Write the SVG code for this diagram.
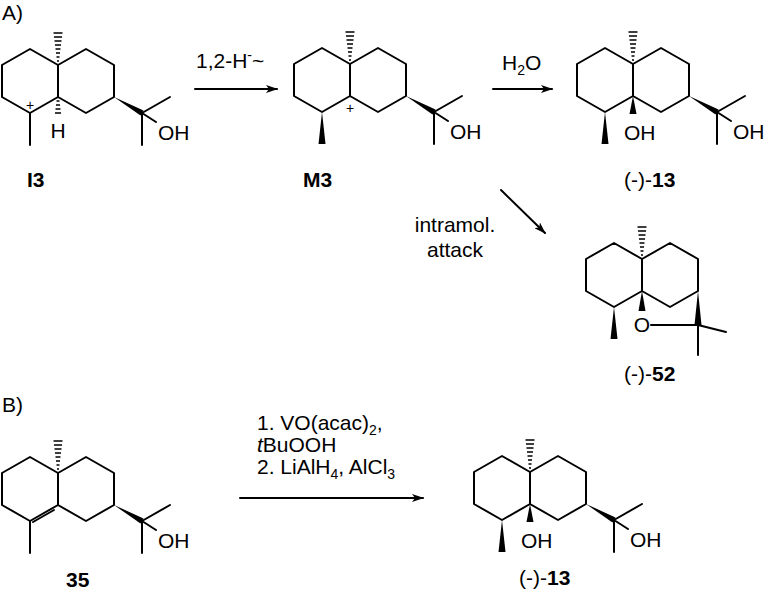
<svg xmlns="http://www.w3.org/2000/svg" xmlns:xlink="http://www.w3.org/1999/xlink" width="770" height="596" viewBox="0 0 770 596">
<style>
.b{fill:none;stroke:#000;stroke-width:2;stroke-linecap:round;stroke-linejoin:round}
.h{fill:none;stroke:#000;stroke-width:1.4}
.f{fill:#000}
text{font-family:"Liberation Sans",Arial,sans-serif;font-size:21px;fill:#000}
.lb{font-weight:bold}
.s{font-size:14px}
</style>
<defs>
<marker id="ah" markerWidth="12" markerHeight="8" refX="11" refY="4" orient="auto" markerUnits="userSpaceOnUse"><path d="M0,0 L12,4 L0,8 L3,4 Z" fill="#000"/></marker>
<path id="dec" class="b" d="M-56,0 L-28,-16 L0,0 L28,-16 L56,0 L56,32 L28,48 L0,32 L-28,48 L-56,32 Z M0,0 L0,32"/>
<path id="hashUp" class="h" d="M-1,-4 H1 M-1.5,-8 H1.5 M-2,-12 H2 M-2.5,-16 H2.5 M-3,-20 H3 M-3.5,-24 H3.5 M-4,-28 H4 M-4.5,-32 H4.5"/>
<g id="side"><polygon class="f" points="56,32 82.5,50.6 85.5,45.4"/><path class="b" d="M84,48 L112,32 M84,48 L84,80 M84,48 L98,57"/><text x="100" y="75">OH</text></g>
<polygon id="meW" class="f" points="-28,48 -31.5,80 -24.5,80"/>
<line id="meL" class="b" x1="-28" y1="48" x2="-28" y2="80"/>
</defs>
<text x="2" y="20">A)</text>
<text x="2" y="412">B)</text>
<g id="I3" transform="translate(58,65)">
<use href="#dec"/><use href="#hashUp"/><use href="#side"/><use href="#meL"/>
<path class="h" d="M-1.5,36 H1.5 M-2,40 H2 M-2.5,44 H2.5 M-3,48 H3"/>
<text x="0" y="73" text-anchor="middle">H</text>
<text x="-28" y="45" text-anchor="middle" class="s">+</text>
</g>
<g id="M3" transform="translate(350,64)">
<use href="#dec"/><use href="#hashUp"/><use href="#side"/><use href="#meW"/>
<text x="0" y="49" text-anchor="middle" class="s">+</text>
</g>
<g id="C13a" transform="translate(633,64)">
<use href="#dec"/><use href="#hashUp"/><use href="#side"/><use href="#meW"/>
<polygon class="f" points="0,32 -3.5,50 3.5,50"/>
<text x="-9" y="76">OH</text>
</g>
<g id="C52" transform="translate(642,259)">
<use href="#dec"/><use href="#hashUp"/><use href="#meW"/>
<polygon class="f" points="0,32 -3.5,52 3.5,52"/>
<text x="0" y="73" text-anchor="middle">O</text>
<polygon class="f" points="56,32 52.5,66 59.5,66"/>
<path class="b" d="M9,66 L56,66 L84,73 M56,66 L56,96"/>
</g>
<g id="C35" transform="translate(58,473)">
<use href="#dec"/><use href="#hashUp"/><use href="#side"/><use href="#meL"/>
<path class="b" d="M-4,37 L-25,49"/>
</g>
<g id="C13b" transform="translate(530,472)">
<use href="#dec"/><use href="#hashUp"/><use href="#side"/><use href="#meW"/>
<polygon class="f" points="0,32 -3.5,50 3.5,50"/>
<text x="-9" y="76">OH</text>
</g>
<g id="labels">
<text x="27" y="187" class="lb">I3</text>
<text x="303" y="187" class="lb">M3</text>
<text x="624" y="187">(-)-<tspan class="lb">13</tspan></text>
<text x="624" y="381">(-)-<tspan class="lb">52</tspan></text>
<text x="66" y="587" class="lb">35</text>
<text x="519" y="585">(-)-<tspan class="lb">13</tspan></text>
</g>
<g id="connectors">
<line class="b" x1="195" y1="89" x2="277" y2="89" marker-end="url(#ah)"/>
<line class="b" x1="493" y1="89" x2="552" y2="89" marker-end="url(#ah)"/>
<line class="b" x1="501" y1="190" x2="545" y2="233" marker-end="url(#ah)"/>
<line class="b" x1="240" y1="498" x2="423" y2="498" marker-end="url(#ah)"/>
</g>
<g id="reagents">
<text x="196" y="68">1,2-H<tspan dy="-8" class="s">-</tspan><tspan dy="8">~</tspan></text>
<text x="502" y="70">H<tspan dy="5" class="s">2</tspan><tspan dy="-5">O</tspan></text>
<text x="455" y="232" text-anchor="middle">intramol.</text>
<text x="455" y="257" text-anchor="middle">attack</text>
<text x="257" y="430">1. VO(acac)<tspan dy="5" class="s">2</tspan><tspan dy="-5">,</tspan></text>
<text x="257" y="452"><tspan font-style="italic">t</tspan>BuOOH</text>
<text x="257" y="474">2. LiAlH<tspan dy="5" class="s">4</tspan><tspan dy="-5">, AlCl</tspan><tspan dy="5" class="s">3</tspan></text>
</g>
</svg>
